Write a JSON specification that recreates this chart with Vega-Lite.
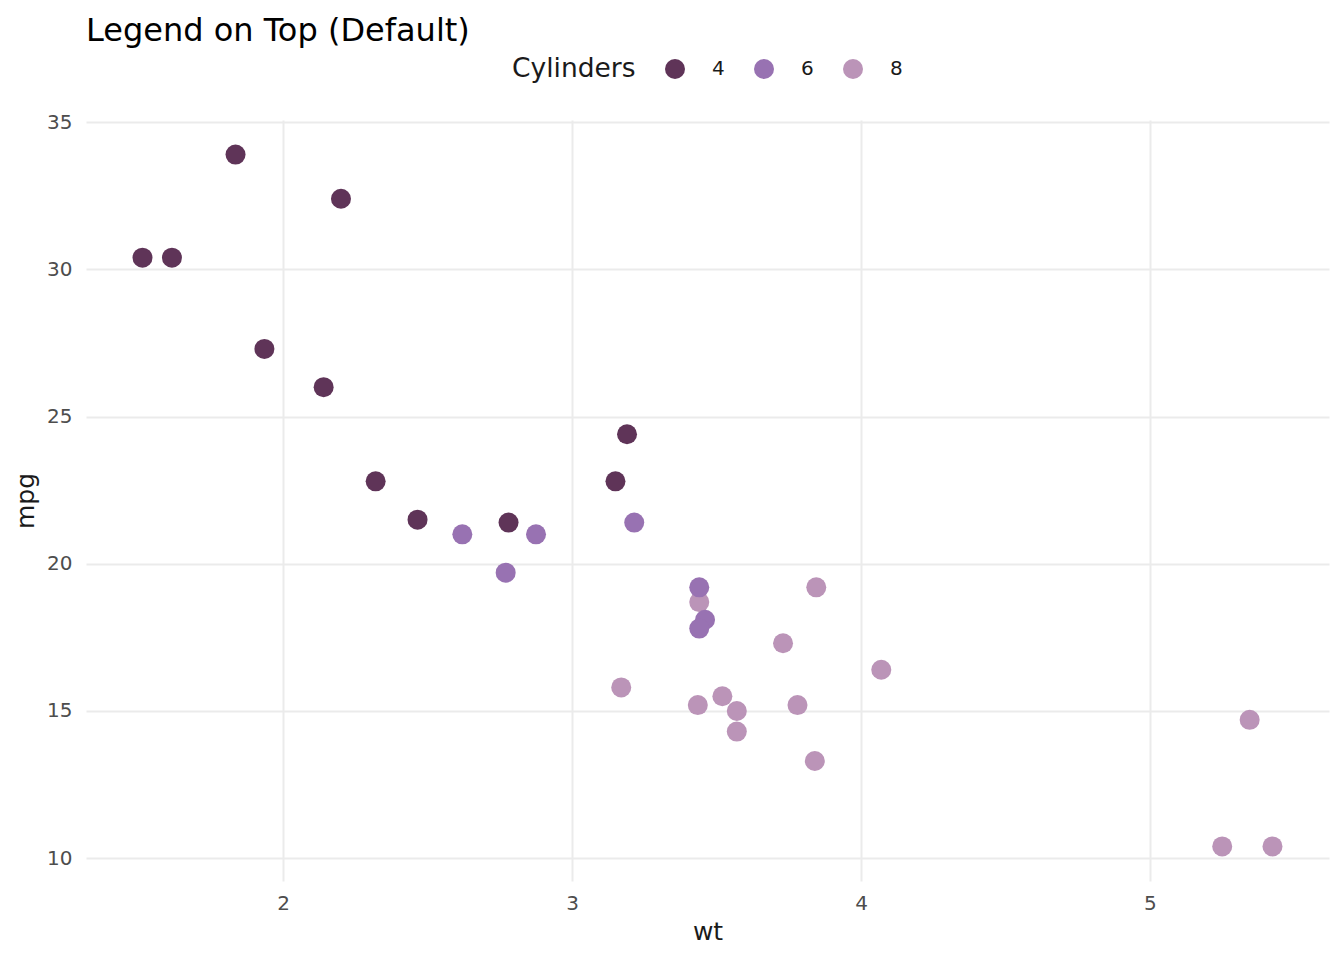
{
  "$schema": "https://vega.github.io/schema/vega-lite/v6.json",
  "autosize": {"type": "none"},
  "padding": {"left": 86, "top": 120, "right": 15, "bottom": 79},
  "width": 1243,
  "height": 761,
  "background": "white",
  "config": {
    "font": "DejaVu Sans",
    "view": {"stroke": null},
    "axis": {"grid": true, "gridColor": "#ebebeb", "gridWidth": 2, "domain": false, "ticks": false, "labelColor": "#4d4d4d", "labelFontSize": 20, "titleFontSize": 25, "titleFontWeight": "normal", "titleColor": "#1a1a1a", "labelFont": "DejaVu Sans", "titleFont": "DejaVu Sans"}
  },
  "title": {"text": "Legend on Top (Default)", "anchor": "start", "frame": "group", "fontSize": 32, "fontWeight": "normal", "color": "#000000", "font": "DejaVu Sans", "offset": 10},
  "data": {"values": [
    {"model": "Mazda RX4", "mpg": 21.0, "cyl": "6", "wt": 2.620},
    {"model": "Mazda RX4 Wag", "mpg": 21.0, "cyl": "6", "wt": 2.875},
    {"model": "Datsun 710", "mpg": 22.8, "cyl": "4", "wt": 2.320},
    {"model": "Hornet 4 Drive", "mpg": 21.4, "cyl": "6", "wt": 3.215},
    {"model": "Hornet Sportabout", "mpg": 18.7, "cyl": "8", "wt": 3.440},
    {"model": "Valiant", "mpg": 18.1, "cyl": "6", "wt": 3.460},
    {"model": "Duster 360", "mpg": 14.3, "cyl": "8", "wt": 3.570},
    {"model": "Merc 240D", "mpg": 24.4, "cyl": "4", "wt": 3.190},
    {"model": "Merc 230", "mpg": 22.8, "cyl": "4", "wt": 3.150},
    {"model": "Merc 280", "mpg": 19.2, "cyl": "6", "wt": 3.440},
    {"model": "Merc 280C", "mpg": 17.8, "cyl": "6", "wt": 3.440},
    {"model": "Merc 450SE", "mpg": 16.4, "cyl": "8", "wt": 4.070},
    {"model": "Merc 450SL", "mpg": 17.3, "cyl": "8", "wt": 3.730},
    {"model": "Merc 450SLC", "mpg": 15.2, "cyl": "8", "wt": 3.780},
    {"model": "Cadillac Fleetwood", "mpg": 10.4, "cyl": "8", "wt": 5.250},
    {"model": "Lincoln Continental", "mpg": 10.4, "cyl": "8", "wt": 5.424},
    {"model": "Chrysler Imperial", "mpg": 14.7, "cyl": "8", "wt": 5.345},
    {"model": "Fiat 128", "mpg": 32.4, "cyl": "4", "wt": 2.200},
    {"model": "Honda Civic", "mpg": 30.4, "cyl": "4", "wt": 1.615},
    {"model": "Toyota Corolla", "mpg": 33.9, "cyl": "4", "wt": 1.835},
    {"model": "Toyota Corona", "mpg": 21.5, "cyl": "4", "wt": 2.465},
    {"model": "Dodge Challenger", "mpg": 15.5, "cyl": "8", "wt": 3.520},
    {"model": "AMC Javelin", "mpg": 15.2, "cyl": "8", "wt": 3.435},
    {"model": "Camaro Z28", "mpg": 13.3, "cyl": "8", "wt": 3.840},
    {"model": "Pontiac Firebird", "mpg": 19.2, "cyl": "8", "wt": 3.845},
    {"model": "Fiat X1-9", "mpg": 27.3, "cyl": "4", "wt": 1.935},
    {"model": "Porsche 914-2", "mpg": 26.0, "cyl": "4", "wt": 2.140},
    {"model": "Lotus Europa", "mpg": 30.4, "cyl": "4", "wt": 1.513},
    {"model": "Ford Pantera L", "mpg": 15.8, "cyl": "8", "wt": 3.170},
    {"model": "Ferrari Dino", "mpg": 19.7, "cyl": "6", "wt": 2.770},
    {"model": "Maserati Bora", "mpg": 15.0, "cyl": "8", "wt": 3.570},
    {"model": "Volvo 142E", "mpg": 21.4, "cyl": "4", "wt": 2.780}
  ]},
  "mark": {"type": "point", "filled": true, "opacity": 1, "size": 400},
  "encoding": {
    "x": {"field": "wt", "type": "quantitative", "title": "wt", "scale": {"domain": [1.3175, 5.6196], "nice": false, "zero": false}, "axis": {"values": [2, 3, 4, 5], "labelPadding": 12, "titlePadding": 6}},
    "y": {"field": "mpg", "type": "quantitative", "title": "mpg", "scale": {"domain": [9.225, 35.075], "nice": false, "zero": false}, "axis": {"values": [10, 15, 20, 25, 30, 35], "labelPadding": 14, "titlePadding": 8}},
    "color": {"field": "cyl", "type": "nominal", "title": "Cylinders",
      "scale": {"domain": ["4", "6", "8"], "range": ["#5f3458", "#9872b2", "#bb94b8"]},
      "legend": {"orient": "none", "direction": "horizontal", "legendX": 426, "legendY": -62, "titleOrient": "left", "titleFontSize": 26.5, "titleFontWeight": "normal", "titleColor": "#1a1a1a", "titlePadding": 28, "titleBaseline": "middle", "labelFontSize": 20, "labelColor": "#1a1a1a", "symbolSize": 400, "symbolType": "circle", "symbolOpacity": 1, "labelOffset": 26, "columnPadding": 28}
    }
  }
}
